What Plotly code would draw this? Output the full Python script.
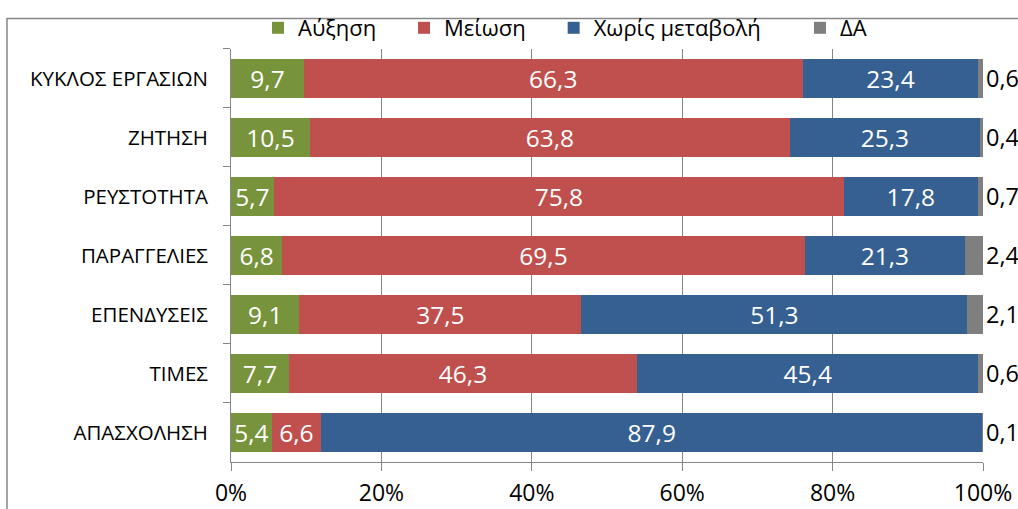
import plotly.graph_objects as go

categories = ["ΚΥΚΛΟΣ ΕΡΓΑΣΙΩΝ", "ΖΗΤΗΣΗ", "ΡΕΥΣΤΟΤΗΤΑ", "ΠΑΡΑΓΓΕΛΙΕΣ",
              "ΕΠΕΝΔΥΣΕΙΣ", "ΤΙΜΕΣ", "ΑΠΑΣΧΟΛΗΣΗ"]
increase = [9.7, 10.5, 5.7, 6.8, 9.1, 7.7, 5.4]
decrease = [66.3, 63.8, 75.8, 69.5, 37.5, 46.3, 6.6]
no_change = [23.4, 25.3, 17.8, 21.3, 51.3, 45.4, 87.9]
na = [0.6, 0.4, 0.7, 2.4, 2.1, 0.6, 0.1]

series = [
    ("Αύξηση", increase, "#77933C", 4),
    ("Μείωση", decrease, "#C0504D", 4),
    ("Χωρίς μεταβολή", no_change, "#376092", 6),
    ("ΔΑ", na, "#7F7F7F", 0),
]

font = "Open Sans"


def fmt(v):
    return f"{v:.1f}".replace(".", ",")


fig = go.Figure()
for name, vals, color, pad in series:
    last = name == "ΔΑ"
    fig.add_trace(go.Bar(
        y=categories, x=vals, name=name + "\u00a0" * pad,  # nbsp = legend gap
        orientation="h",
        marker=dict(color=color, line=dict(width=0)),
        text=[fmt(v) for v in vals],
        textposition="outside" if last else "inside",
        insidetextanchor="middle",
        textfont=dict(color="black" if last else "white",
                      size=23.5 if last else 24.5, family=font),
        constraintext="none",
        cliponaxis=False,
        hoverinfo="skip",
    ))

fig.update_layout(
    barmode="stack",
    bargap=0.34,
    width=1018, height=509,
    margin=dict(l=231, r=35, t=43, b=47),
    paper_bgcolor="white", plot_bgcolor="white",
    font=dict(family=font, color="black"),
    legend=dict(orientation="h", xref="container", yref="container",
                x=0.555, xanchor="center", y=0.945, yanchor="middle",
                font=dict(size=22, family=font), bgcolor="rgba(0,0,0,0)",
                traceorder="normal", itemwidth=30),
    shapes=[dict(type="rect", xref="paper", yref="paper",
                 x0=-0.2979, x1=1.08, y0=-0.2, y1=1.074,
                 line=dict(color="#868686", width=1.5))],
)
fig.update_xaxes(range=[0, 100], dtick=20, ticksuffix="%", automargin=False,
                 showgrid=True, gridcolor="#868686", gridwidth=1,
                 showline=True, linecolor="#868686", linewidth=1,
                 ticks="outside", ticklen=8, tickcolor="#868686",
                 tickfont=dict(size=23, family=font), ticklabelstandoff=2,
                 zeroline=False)
fig.update_yaxes(autorange="reversed", tickson="boundaries", automargin=False,
                 ticks="outside", ticklen=7, tickcolor="#868686",
                 showline=True, linecolor="#868686", linewidth=1,
                 tickfont=dict(size=20.5, family=font), ticklabelstandoff=18)

# drop the page's default body margin so the figure fills the window
fig.write_html("out.html", config={"displayModeBar": False},
               post_script="document.body.style.margin='0';"
                           "document.body.style.overflow='hidden';")
